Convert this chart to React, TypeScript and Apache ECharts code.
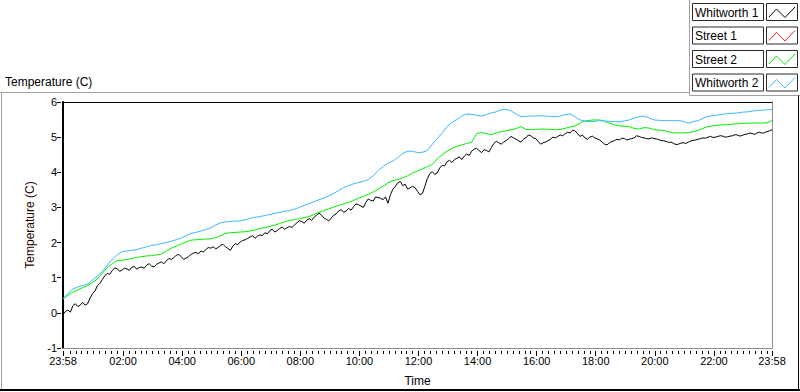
import React, { useEffect, useRef } from "react";
import * as echarts from "echarts";

// ---------- data ----------
const SERIES_NAMES = ["Whitworth 1", "Street 1", "Street 2", "Whitworth 2"];
const SERIES_COLORS = ["#000000", "#ff2020", "#00f000", "#3cb8ff"];

// Whitworth 1 sampled every 5 minutes, the others every 10 minutes,
// starting at 23:58 (offset 0) up to 23:58 the next day (offset 1440)
const SERIES_STEP_MIN = [5, 10, 10, 10];

const whitworth1 = [
  -0.05, 0.04, 0.08, 0.02, 0.2, 0.26, 0.18, 0.22, 0.3, 0.22, 0.26, 0.42, 0.55, 0.62, 0.78, 0.84, 0.95, 1.06, 1.12, 1.1,
  1.2, 1.28, 1.26, 1.18, 1.22, 1.27, 1.25, 1.21, 1.3, 1.32, 1.24, 1.29, 1.3, 1.27, 1.36, 1.4, 1.33, 1.31, 1.38, 1.42,
  1.45, 1.4, 1.48, 1.55, 1.52, 1.57, 1.64, 1.66, 1.6, 1.52, 1.56, 1.6, 1.66, 1.7, 1.72, 1.68, 1.76, 1.73, 1.8, 1.86,
  1.84, 1.88, 1.82, 1.86, 1.92, 1.95, 1.88, 1.83, 1.78, 1.9, 1.97, 1.94, 2.02, 2.06, 2.08, 2.12, 2.16, 2.2, 2.12, 2.18,
  2.22, 2.2, 2.28, 2.25, 2.34, 2.38, 2.3, 2.34, 2.4, 2.44, 2.38, 2.42, 2.46, 2.43, 2.5, 2.56, 2.62, 2.6, 2.55, 2.64,
  2.68, 2.63, 2.72, 2.78, 2.84, 2.78, 2.7, 2.66, 2.62, 2.7, 2.78, 2.82, 2.9, 2.94, 2.86, 2.9, 2.97, 2.92, 3.02, 3.1,
  3.08, 3.04, 3.0, 3.14, 3.24, 3.2, 3.18, 3.3, 3.28, 3.26, 3.22, 3.3, 3.12, 3.36, 3.52, 3.6, 3.7, 3.74, 3.62, 3.66,
  3.52, 3.56, 3.6, 3.56, 3.46, 3.36, 3.4, 3.6, 3.82, 3.96, 4.02, 3.94, 3.98, 4.12, 4.2, 4.18, 4.3, 4.34, 4.28, 4.36,
  4.4, 4.44, 4.36, 4.46, 4.52, 4.48, 4.6, 4.66, 4.68, 4.62, 4.56, 4.64, 4.62, 4.58, 4.7, 4.82, 4.88, 4.84, 4.8, 4.86,
  4.9, 4.96, 5.02, 4.98, 4.94, 4.9, 4.86, 4.94, 4.98, 5.06, 5.04, 4.98, 4.96, 4.88, 4.8, 4.84, 4.86, 4.9, 4.94, 5.0,
  4.98, 5.02, 5.06, 5.04, 5.1, 5.14, 5.12, 5.2, 5.18, 5.1, 5.02, 5.06, 4.98, 4.94, 5.0, 5.03, 4.98, 4.95, 4.92, 4.86,
  4.8, 4.78, 4.84, 4.88, 4.9, 4.94, 4.92, 4.97, 4.96, 4.92, 4.94, 4.96, 4.98, 5.04, 5.02, 4.99, 4.98, 4.96, 4.95, 4.98,
  4.96, 4.95, 4.93, 4.9, 4.9, 4.88, 4.85, 4.86, 4.82, 4.79, 4.8, 4.83, 4.84, 4.82, 4.86, 4.89, 4.91, 4.92, 4.94, 4.96,
  4.98, 4.97, 5.0, 5.02, 4.99, 5.0, 5.02, 5.04, 5.03, 5.0, 5.01, 5.03, 5.04, 5.07, 5.06, 5.03, 5.05, 5.08, 5.09, 5.12,
  5.1, 5.08, 5.12, 5.14, 5.11, 5.13, 5.16, 5.18, 5.21,
];

const street1: number[] = [];

const street2 = [
  0.4, 0.5, 0.59, 0.65, 0.72, 0.78, 0.87, 0.96, 1.13, 1.29,
  1.4, 1.49, 1.5, 1.52, 1.55, 1.58, 1.6, 1.62, 1.63, 1.65,
  1.68, 1.76, 1.84, 1.9, 1.96, 2.02, 2.07, 2.08, 2.09, 2.1,
  2.11, 2.14, 2.2, 2.26, 2.28, 2.29, 2.3, 2.31, 2.33, 2.36,
  2.4, 2.43, 2.46, 2.5, 2.54, 2.59, 2.63, 2.65, 2.68, 2.71,
  2.74, 2.8, 2.86, 2.91, 2.96, 3.01, 3.06, 3.1, 3.15, 3.2,
  3.26, 3.31, 3.37, 3.44, 3.52, 3.6, 3.7, 3.76, 3.8, 3.84,
  3.9, 3.98, 4.04, 4.1, 4.16, 4.22, 4.38, 4.5, 4.6, 4.68,
  4.74, 4.78, 4.82, 4.86, 5.1, 5.13, 5.1, 5.07, 5.12, 5.16,
  5.18, 5.21, 5.24, 5.3, 5.22, 5.21, 5.22, 5.23, 5.23, 5.22,
  5.21, 5.22, 5.25, 5.29, 5.32, 5.4, 5.46, 5.48, 5.49, 5.49,
  5.45, 5.4, 5.35, 5.32, 5.31, 5.3, 5.25, 5.23, 5.27, 5.26,
  5.21, 5.2, 5.19, 5.15, 5.12, 5.12, 5.12, 5.13, 5.16, 5.19,
  5.25, 5.3, 5.32, 5.34, 5.35, 5.36, 5.37, 5.38, 5.39, 5.4,
  5.4, 5.4, 5.4, 5.41, 5.47,
];

const whitworth2 = [
  0.4, 0.55, 0.68, 0.74, 0.78, 0.82, 0.94, 1.05, 1.18, 1.36,
  1.52, 1.66, 1.74, 1.76, 1.78, 1.8, 1.84, 1.88, 1.92, 1.94,
  1.97, 2.0, 2.04, 2.08, 2.13, 2.2, 2.26, 2.29, 2.33, 2.37,
  2.42, 2.5, 2.56, 2.59, 2.6, 2.61, 2.62, 2.65, 2.69, 2.72,
  2.74, 2.77, 2.8, 2.83, 2.86, 2.89, 2.91, 2.95, 3.0, 3.06,
  3.11, 3.16, 3.22, 3.27, 3.33, 3.4, 3.48, 3.57, 3.62, 3.67,
  3.71, 3.74, 3.79, 3.9, 4.05, 4.16, 4.26, 4.32, 4.42, 4.54,
  4.6, 4.6, 4.56, 4.57, 4.62, 4.8, 4.95, 5.12, 5.3, 5.42,
  5.5, 5.6, 5.66, 5.65, 5.62, 5.6, 5.64, 5.69, 5.72, 5.78,
  5.79, 5.75, 5.66, 5.58, 5.59, 5.6, 5.6, 5.61, 5.6, 5.59,
  5.58, 5.6, 5.64, 5.66, 5.58, 5.49, 5.46, 5.44, 5.45, 5.47,
  5.46, 5.45, 5.44, 5.44, 5.46, 5.49, 5.54, 5.58, 5.6, 5.55,
  5.49, 5.48, 5.47, 5.47, 5.47, 5.47, 5.45, 5.4, 5.44, 5.47,
  5.54, 5.59, 5.61, 5.63, 5.65, 5.67, 5.68, 5.69, 5.71, 5.72,
  5.74, 5.76, 5.77, 5.78, 5.79,
];

const SERIES_VALUES = [whitworth1, street1, street2, whitworth2];

// x axis: minutes after 23:58
const X_TICK_OFFSETS = [0, 122, 242, 362, 482, 602, 722, 842, 962, 1082, 1202, 1322, 1440];
const X_TICK_LABELS = [
  "23:58", "02:00", "04:00", "06:00", "08:00", "10:00", "12:00",
  "14:00", "16:00", "18:00", "20:00", "22:00", "23:58",
];
const X_MINOR_STEP_MIN = 12;
const Y_MIN = -1;
const Y_MAX = 6;
const Y_INTERVAL = 1;

const X_TITLE = "Time";
const Y_TITLE = "Temperature (C)";
const PLOT_LABEL = "Temperature (C)";

const FONT = "'Liberation Sans', Arial, sans-serif";

export default function App() {
  const ref = useRef<HTMLDivElement>(null);

  useEffect(() => {
    if (!ref.current) return;
    const chart = echarts.init(ref.current, null, { renderer: "svg" });

    const minorTicks: number[] = [];
    for (let t = 2 + X_MINOR_STEP_MIN; t < 1440; t += X_MINOR_STEP_MIN) {
      if (X_TICK_OFFSETS.indexOf(t) < 0) minorTicks.push(t);
    }

    const series = SERIES_NAMES.map((name, i) => ({
      name,
      type: "line" as const,
      xAxisIndex: 0,
      yAxisIndex: 0,
      data: SERIES_VALUES[i].map((v, k) => [k * SERIES_STEP_MIN[i], v]),
      showSymbol: false,
      symbol: "none",
      silent: true,
      lineStyle: { width: 1, color: SERIES_COLORS[i] },
      itemStyle: { color: SERIES_COLORS[i] },
      z: 2 + i,
    }));

    const legendEls: any[] = [];
    SERIES_NAMES.forEach((name, i) => {
      const top = 3 + i * 23.5;
      legendEls.push({
        type: "rect",
        shape: { x: 692.5, y: top + 0.5, width: 71, height: 17 },
        style: { fill: "#fff", stroke: "#2a2a2a", lineWidth: 1 },
      });
      legendEls.push({
        type: "text",
        x: 695,
        y: top + 9.5,
        style: {
          text: name,
          fill: "#000",
          font: `12px ${FONT}`,
          verticalAlign: "middle",
          textAlign: "left",
        },
      });
      legendEls.push({
        type: "rect",
        shape: { x: 766.5, y: top + 0.5, width: 31, height: 17 },
        style: { fill: "#fff", stroke: "#2a2a2a", lineWidth: 1 },
      });
      legendEls.push({
        type: "polyline",
        shape: {
          points: [
            [769, top + 14],
            [776.5, top + 6],
            [785, top + 14.5],
            [795, top + 4],
          ],
        },
        style: { stroke: SERIES_COLORS[i], lineWidth: 1, fill: null },
      });
    });

    const frameEls: any[] = [
      { type: "line", shape: { x1: 0, y1: 92.5, x2: 690, y2: 92.5 }, style: { stroke: "#a0a0a0", lineWidth: 1 } },
      { type: "line", shape: { x1: 689.5, y1: 0, x2: 689.5, y2: 95.5 }, style: { stroke: "#a0a0a0", lineWidth: 1 } },
      { type: "line", shape: { x1: 689.5, y1: 95.5, x2: 800, y2: 95.5 }, style: { stroke: "#a0a0a0", lineWidth: 1 } },
      { type: "line", shape: { x1: 1.5, y1: 92.5, x2: 1.5, y2: 390 }, style: { stroke: "#a0a0a0", lineWidth: 1 } },
      { type: "line", shape: { x1: 0, y1: 390, x2: 800, y2: 390 }, style: { stroke: "#000", lineWidth: 2 } },
      { type: "line", shape: { x1: 798.5, y1: 95.5, x2: 798.5, y2: 391 }, style: { stroke: "#000", lineWidth: 1 } },
      {
        type: "text",
        x: 5,
        y: 82,
        style: { text: PLOT_LABEL, fill: "#000", font: `12px ${FONT}`, verticalAlign: "middle" },
      },
    ];

    const labelStyle = { color: "#000", fontSize: 11, fontFamily: FONT };

    chart.setOption({
      animation: false,
      backgroundColor: "#fff",
      grid: { left: 63, top: 102, right: 28, bottom: 40, containLabel: false },
      xAxis: [
        {
          type: "value",
          min: 0,
          max: 1440,
          position: "bottom",
          axisLine: { show: true, onZero: false, lineStyle: { color: "#8c8c8c", width: 1 } },
          axisTick: { show: false },
          axisLabel: { show: false },
          splitLine: { show: false },
          name: X_TITLE,
          nameLocation: "middle",
          nameGap: 27,
          nameTextStyle: { color: "#000", fontSize: 12, fontFamily: FONT },
        },
        {
          type: "value",
          min: 0,
          max: 1440,
          position: "bottom",
          offset: 3,
          axisLine: { show: false, onZero: false },
          axisTick: { show: true, length: 5, customValues: X_TICK_OFFSETS, lineStyle: { color: "#000", width: 1 } },
          axisLabel: {
            show: true,
            customValues: X_TICK_OFFSETS,
            margin: 4,
            ...labelStyle,
            formatter: (v: number) => {
              const idx = X_TICK_OFFSETS.indexOf(Math.round(v));
              return idx >= 0 ? X_TICK_LABELS[idx] : "";
            },
          },
          splitLine: { show: false },
        },
        {
          type: "value",
          min: 0,
          max: 1440,
          position: "bottom",
          offset: 3,
          axisLine: { show: false, onZero: false },
          axisTick: { show: true, length: 3, customValues: minorTicks, lineStyle: { color: "#000", width: 1 } },
          axisLabel: { show: false },
          splitLine: { show: false },
        },
        {
          type: "value",
          min: 0,
          max: 1440,
          position: "top",
          axisLine: { show: true, onZero: false, lineStyle: { color: "#000", width: 1 } },
          axisTick: { show: false },
          axisLabel: { show: false },
          splitLine: { show: false },
        },
      ],
      yAxis: [
        {
          type: "value",
          min: Y_MIN,
          max: Y_MAX,
          interval: Y_INTERVAL,
          position: "left",
          axisLine: { show: true, onZero: false, lineStyle: { color: "#000", width: 2 } },
          axisTick: { show: false },
          axisLabel: { show: false },
          splitLine: { show: false },
          name: Y_TITLE,
          nameLocation: "middle",
          nameGap: 27,
          nameRotate: 90,
          nameTextStyle: { color: "#2a0000", fontSize: 12, fontFamily: FONT },
        },
        {
          type: "value",
          min: Y_MIN,
          max: Y_MAX,
          interval: Y_INTERVAL,
          position: "left",
          offset: 2,
          axisLine: { show: false, onZero: false },
          axisTick: { show: true, length: 4, lineStyle: { color: "#000", width: 1 } },
          axisLabel: { show: true, margin: 4, ...labelStyle },
          splitLine: { show: false },
        },
        {
          type: "value",
          min: Y_MIN,
          max: Y_MAX,
          interval: Y_INTERVAL,
          position: "right",
          axisLine: { show: true, onZero: false, lineStyle: { color: "#8c8c8c", width: 1 } },
          axisTick: { show: false },
          axisLabel: { show: false },
          splitLine: { show: false },
        },
      ],
      series,
      graphic: [...frameEls, ...legendEls],
    });

    return () => chart.dispose();
  }, []);

  return (
    <div
      ref={ref}
      style={{ position: "fixed", left: 0, top: 0, width: 800, height: 392, background: "#fff" }}
    />
  );
}
